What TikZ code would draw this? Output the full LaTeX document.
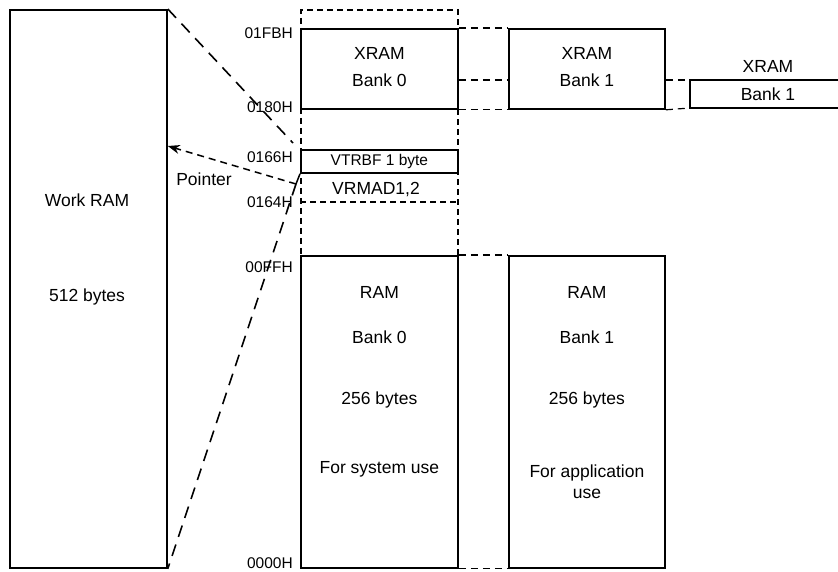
\documentclass[tikz,border=0pt]{standalone}
\usepackage{fontspec}
\setmainfont{Liberation Sans}
\usetikzlibrary{arrows.meta,positioning}

\begin{document}
\begin{tikzpicture}[x=1pt,y=-1pt,
				box/.style={draw,line width=1.8pt,inner sep=0pt,anchor=north west},
				txt/.style={font=\fontsize{17.5}{21}\selectfont,inner sep=0pt},
				small/.style={font=\fontsize{15.5}{18}\selectfont,inner sep=0pt},
				addr/.style={small,anchor=east},
				region/.style={line width=1.5pt,dash pattern=on 6pt off 4pt},
				link/.style={line width=1.2pt,dash pattern=on 7pt off 5pt},
				span/.style={line width=1.6pt,dash pattern=on 12pt off 8pt}]
\useasboundingbox (0,0) rectangle (838,571);
% work ram on the left
\node[box,minimum width=157pt,minimum height=558pt] (work) at (9,9) {};
\node[txt] at (87,200) {Work RAM};
\node[txt] at (87,297) {512 bytes};
% bank 0 column
\node[box,region,minimum width=157pt,minimum height=558pt] (col) at (300,9) {};
\node[box,minimum width=157pt,minimum height=80pt] (xram0) at (300,28) {};
\node[txt] at ([yshift=-25pt]xram0.north) {XRAM};
\node[txt] at ([yshift=-52pt]xram0.north) {Bank 0};
\node[box,small,minimum width=157pt,minimum height=23pt,anchor=north west] (vtrbf) at (300,149) {VTRBF 1 byte};
\node[txt] (vrmad) at (376,190) {VRMAD1,2};
\draw[region] (col.west |- 0,202) coordinate (l164) -- (col.east |- 0,202) coordinate (r164);
\node[box,minimum width=157pt,minimum height=312pt] (ram0) at (300,255) {};
\node[txt] at ([yshift=-37pt]ram0.north) {RAM};
\node[txt] at ([yshift=-82pt]ram0.north) {Bank 0};
\node[txt] at ([yshift=-145pt]ram0.north) {256 bytes};
\node[txt] at ([yshift=-214pt]ram0.north) {For system use};
% addresses
\node[addr] at (293,33) {01FBH};
\node[addr] at (293,107) {0180H};
\node[addr] at (293,157) {0166H};
\node[addr] at (293,202) {0164H};
\node[addr] at (293,267) {00FFH};
\node[addr] at (293,563) {0000H};
% bank 1
\node[box,minimum width=156pt,minimum height=80pt] (xram1) at (508,28) {};
\node[txt] at ([yshift=-25pt]xram1.north) {XRAM};
\node[txt] at ([yshift=-52pt]xram1.north) {Bank 1};
\node[box,minimum width=156pt,minimum height=312pt] (ram1) at (508,255) {};
\node[txt] at ([yshift=-37pt]ram1.north) {RAM};
\node[txt] at ([yshift=-82pt]ram1.north) {Bank 1};
\node[txt] at ([yshift=-145pt]ram1.north) {256 bytes};
\node[txt,align=center] at ([yshift=-227pt]ram1.north) {For application\\use};
% cut off xram on the right
\coordinate (xr2) at (690,80);
\coordinate (xr2b) at (690,108);
\draw[line width=1.8pt] (839,80) -- (xr2) -- (xr2b) -- (839,108);
\node[txt] at (768,66) {XRAM};
\node[txt] at (768,94) {Bank 1};
% dashed links between banks
\draw[link] (xram0.north east) -- (xram1.north west);
\draw[link] (xram0.east |- xr2) -- (xram1.west |- xr2);
\draw[link] (xram0.south east) -- (xram1.south west);
\draw[link] (xram1.east |- xr2) -- (xr2);
\draw[link] (xram1.south east) -- (xr2b);
\draw[link] (ram0.north east) -- (ram1.north west);
\draw[link] (ram0.south east) -- (ram1.south west);
% spans and pointer
\coordinate (top) at (293,143);
\coordinate (ptr) at (296,184);
\draw[span] (work.north east) -- (top);
\draw[line width=1.5pt] (vtrbf.south west) -- (ptr);
\draw[span] (ptr) -- (work.south east);
\draw[link,line width=1.5pt,-{Stealth[length=12pt,width=9pt]}] (ptr) -- (work.east |- 0,146);
\node[txt] at (204,179) {Pointer};
\end{tikzpicture}
\end{document}
